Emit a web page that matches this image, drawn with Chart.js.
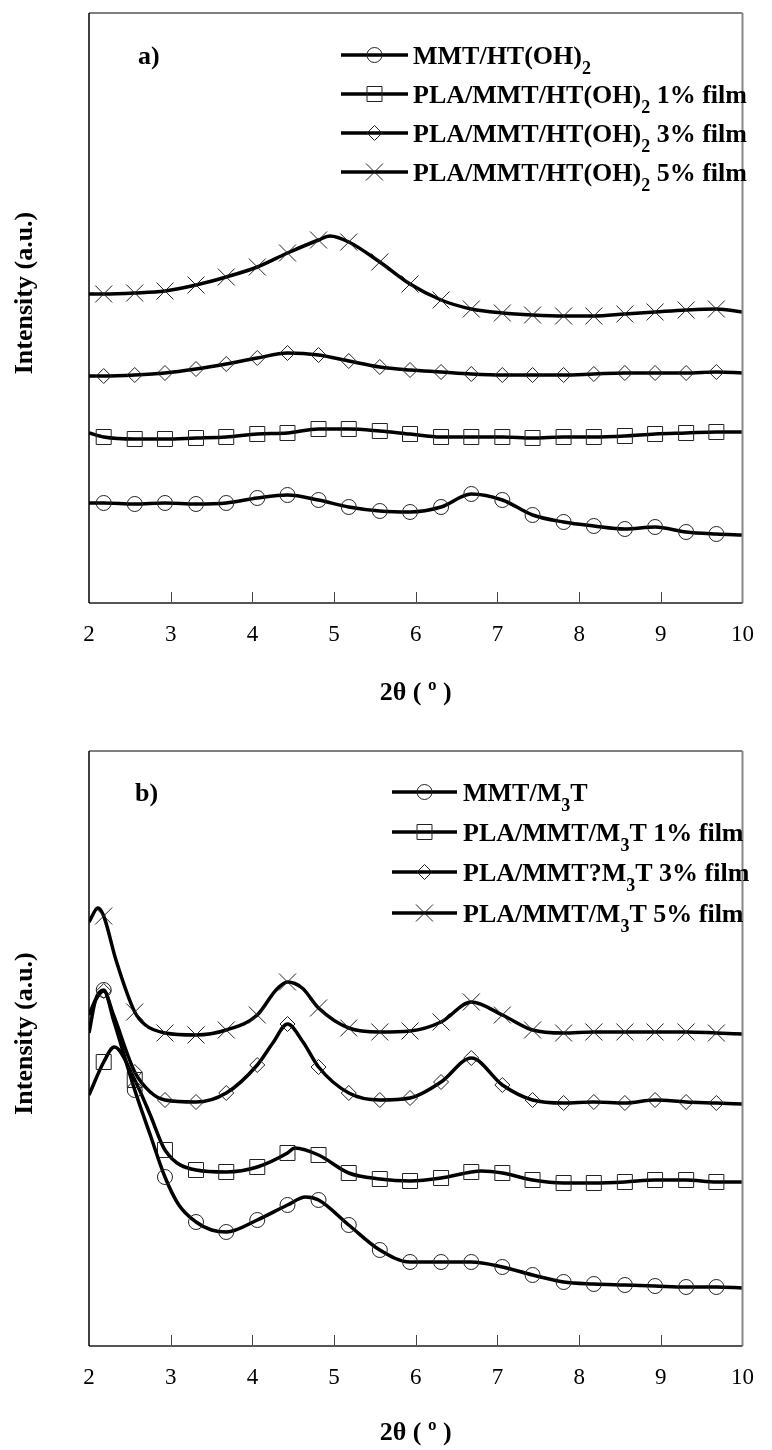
<!DOCTYPE html>
<html><head><meta charset="utf-8">
<script src="https://cdn.jsdelivr.net/npm/chart.js@4/dist/chart.umd.min.js"></script>
<style>
html,body{margin:0;padding:0;background:#fff;}
#wrapA{position:absolute;left:0;top:0;width:772px;height:735px;}
#wrapB{position:absolute;left:0;top:735px;width:772px;height:715px;}
</style></head><body>
<div id="wrapA"><canvas id="chartA"></canvas></div>
<div id="wrapB"><canvas id="chartB"></canvas></div>
<script>
// ---------- data ----------
const xTicks = [2, 3, 4, 5, 6, 7, 8, 9, 10];
const markerX = [2.18, 2.56, 2.93, 3.31, 3.68, 4.06, 4.43, 4.81, 5.18, 5.56, 5.93, 6.31, 6.68, 7.06, 7.43, 7.81, 8.18, 8.56, 8.93, 9.31, 9.68];
const xTitle = '2θ ( º )';
const yTitle = 'Intensity (a.u.)';

// panel a)
const labelsA = ['MMT/HT(OH)₂', 'PLA/MMT/HT(OH)₂ 1% film', 'PLA/MMT/HT(OH)₂ 3% film', 'PLA/MMT/HT(OH)₂ 5% film'];
const xA_mmt = [2.0, 2.18, 2.56, 2.93, 3.31, 3.68, 4.06, 4.43, 4.81, 5.18, 5.56, 5.93, 6.31, 6.68, 7.06, 7.43, 7.81, 8.18, 8.56, 8.93, 9.31, 9.68, 10.0];
const yA_mmt = [100, 100, 99, 100, 99, 100, 105, 108, 103, 96, 92, 91, 96, 109, 103, 88, 81, 77, 74, 76, 71, 69, 68];
const xA_1 = [2.0, 2.18, 2.56, 2.93, 3.31, 3.68, 4.06, 4.43, 4.81, 5.18, 5.56, 5.93, 6.31, 6.68, 7.06, 7.43, 7.81, 8.18, 8.56, 8.93, 9.31, 9.68, 10.0];
const yA_1 = [170, 166, 164, 164, 165, 166, 169, 170, 174, 174, 172, 169, 166, 166, 166, 165, 166, 166, 167, 169, 170, 171, 171];
const xA_3 = [2.0, 2.18, 2.56, 2.93, 3.31, 3.68, 4.06, 4.43, 4.81, 5.18, 5.56, 5.93, 6.31, 6.68, 7.06, 7.43, 7.81, 8.18, 8.56, 8.93, 9.31, 9.68, 10.0];
const yA_3 = [227, 227, 228, 230, 234, 239, 245, 250, 248, 242, 236, 233, 231, 229, 228, 228, 228, 229, 230, 230, 230, 231, 230];
const xA_5 = [2.0, 2.18, 2.56, 2.93, 3.31, 3.68, 4.06, 4.43, 4.81, 4.95, 5.18, 5.56, 5.93, 6.31, 6.68, 7.06, 7.43, 7.81, 8.18, 8.56, 8.93, 9.31, 9.68, 10.0];
const yA_5 = [309, 309, 310, 312, 318, 326, 336, 350, 363, 367, 361, 341, 319, 303, 294, 290, 288, 287, 287, 289, 291, 293, 294, 291];

// panel b)
const labelsB = ['MMT/M₃T', 'PLA/MMT/M₃T 1% film', 'PLA/MMT?M₃T 3% film', 'PLA/MMT/M₃T 5% film'];
const xB_mmt = [2.0, 2.08, 2.18, 2.3, 2.56, 2.75, 2.93, 3.1, 3.31, 3.5, 3.68, 4.06, 4.43, 4.65, 4.81, 5.18, 5.56, 5.93, 6.31, 6.68, 7.06, 7.43, 7.81, 8.18, 8.56, 8.93, 9.31, 9.68, 10.0];
const yB_mmt = [313, 346, 356, 326, 256, 211, 169, 141, 124, 116, 114, 126, 141, 149, 146, 121, 96, 84, 84, 84, 79, 71, 64, 62, 61, 60, 59, 59, 58];
const xB_1 = [2.0, 2.18, 2.31, 2.56, 2.75, 2.93, 3.31, 3.68, 4.06, 4.43, 4.52, 4.81, 5.18, 5.56, 5.93, 6.31, 6.68, 6.8, 7.06, 7.43, 7.81, 8.18, 8.56, 8.93, 9.31, 9.68, 10.0];
const yB_1 = [251, 284, 299, 266, 231, 196, 176, 174, 179, 193, 198, 191, 173, 167, 165, 168, 174, 175, 173, 166, 163, 163, 164, 166, 166, 164, 164];
const xB_3 = [2.0, 2.08, 2.18, 2.3, 2.56, 2.75, 2.93, 3.31, 3.68, 4.06, 4.25, 4.43, 4.62, 4.81, 5.18, 5.56, 5.93, 6.31, 6.68, 7.06, 7.43, 7.81, 8.18, 8.56, 8.93, 9.31, 9.68, 10.0];
const yB_3 = [331, 346, 355, 331, 274, 254, 246, 244, 253, 281, 303, 322, 304, 279, 253, 246, 248, 264, 288, 261, 246, 243, 244, 243, 246, 244, 243, 242];
const xB_5 = [2.0, 2.11, 2.18, 2.33, 2.56, 2.69, 2.93, 3.31, 3.68, 4.06, 4.29, 4.43, 4.61, 4.81, 5.18, 5.56, 5.93, 6.31, 6.68, 7.06, 7.43, 7.81, 8.18, 8.56, 8.93, 9.31, 9.68, 10.0];
const yB_5 = [424, 438, 430, 386, 334, 321, 313, 311, 316, 331, 356, 364, 358, 338, 318, 314, 315, 324, 344, 331, 316, 313, 314, 314, 314, 314, 313, 312];

// ---------- styling / helpers ----------
const SERIF = '"Liberation Serif", "Times New Roman", serif';
const markerStyles = ['circle', 'rect', 'rectRot', 'crossRot'];
const markerRadii = [7.5, 10.6, 7.5, 12];
const SUBS = {'₀':'0','₁':'1','₂':'2','₃':'3','₄':'4','₅':'5','₆':'6','₇':'7','₈':'8','₉':'9'};
const LEG_FONT = 26;

function isMarker(x) { return markerX.some(m => Math.abs(m - x) < 0.004); }

function makeDataset(label, xs, ys, i) {
  return {
    label,
    data: xs.map((x, k) => ({x, y: ys[k]})),
    borderColor: '#000',
    borderWidth: 3.5,
    cubicInterpolationMode: 'monotone',
    fill: false,
    pointStyle: markerStyles[i],
    pointRadius: ctx => (ctx.raw && isMarker(ctx.raw.x)) ? markerRadii[i] : 0,
    pointHoverRadius: 0,
    pointBorderColor: '#222',
    pointBorderWidth: 1,
    pointBackgroundColor: 'rgba(0,0,0,0)'
  };
}

function drawRich(ctx, str, x, y, size) {
  const runs = [];
  for (const ch of str) {
    const sub = ch in SUBS;
    const c = sub ? SUBS[ch] : ch;
    if (runs.length && runs[runs.length - 1].sub === sub) runs[runs.length - 1].t += c;
    else runs.push({t: c, sub});
  }
  let cx = x;
  ctx.textBaseline = 'alphabetic';
  ctx.textAlign = 'left';
  ctx.fillStyle = '#000';
  for (const r of runs) {
    const fs = r.sub ? Math.round(size * 0.68) : size;
    ctx.font = 'bold ' + fs + 'px ' + SERIF;
    const yy = y + size * 0.33 + (r.sub ? size * 0.4 : 0);
    ctx.fillText(r.t, cx, yy);
    cx += ctx.measureText(r.t).width;
  }
}

function drawMarker(ctx, style, x, y, r) {
  ctx.beginPath();
  if (style === 'circle') ctx.arc(x, y, r, 0, Math.PI * 2);
  else if (style === 'rect') { const s = r * Math.SQRT1_2; ctx.rect(x - s, y - s, 2 * s, 2 * s); }
  else if (style === 'rectRot') { ctx.moveTo(x - r, y); ctx.lineTo(x, y - r); ctx.lineTo(x + r, y); ctx.lineTo(x, y + r); ctx.closePath(); }
  else if (style === 'crossRot') { const o = r * Math.SQRT1_2; ctx.moveTo(x - o, y - o); ctx.lineTo(x + o, y + o); ctx.moveTo(x + o, y - o); ctx.lineTo(x - o, y + o); }
  ctx.stroke();
}

const decorPlugin = {
  id: 'xrdDecor',
  afterDraw(chart, args, o) {
    const {ctx, chartArea: a} = chart;
    const xs = chart.scales.x;
    ctx.save();
    // inward x ticks
    ctx.strokeStyle = '#444'; ctx.lineWidth = 1;
    xTicks.forEach(v => {
      if (v <= xs.min || v >= xs.max) return;
      const px = Math.round(xs.getPixelForValue(v)) + 0.5;
      ctx.beginPath(); ctx.moveTo(px, a.bottom); ctx.lineTo(px, a.bottom - 11); ctx.stroke();
    });
    // frame
    const seg = (x1, y1, x2, y2, c, w) => { ctx.strokeStyle = c; ctx.lineWidth = w; ctx.beginPath(); ctx.moveTo(x1, y1); ctx.lineTo(x2, y2); ctx.stroke(); };
    seg(a.left, a.top, a.right, a.top, '#555', 1.5);
    seg(a.right, a.top, a.right, a.bottom, '#888', 2);
    seg(a.left, a.bottom, a.right, a.bottom, '#555', 2);
    seg(a.left, a.top, a.left, a.bottom, '#000', 1.5);
    // y axis title
    ctx.save();
    ctx.translate(o.yTitleX, (a.top + a.bottom) / 2 + o.yTitleDy);
    ctx.rotate(-Math.PI / 2);
    ctx.font = 'bold 26px ' + SERIF;
    ctx.fillStyle = '#000';
    ctx.textAlign = 'center';
    ctx.textBaseline = 'middle';
    ctx.fillText(yTitle, 0, 0);
    ctx.restore();
    // panel label
    drawRich(ctx, o.panel, o.panelX, o.rows[0], LEG_FONT);
    // legend
    chart.data.datasets.forEach((ds, i) => {
      const y = o.rows[i];
      ctx.strokeStyle = '#000'; ctx.lineWidth = 3.5;
      ctx.beginPath(); ctx.moveTo(o.x0, y); ctx.lineTo(o.x1, y); ctx.stroke();
      ctx.strokeStyle = '#222'; ctx.lineWidth = 1;
      drawMarker(ctx, markerStyles[i], (o.x0 + o.x1) / 2, y, markerRadii[i]);
      drawRich(ctx, ds.label, o.textX, y, LEG_FONT);
    });
    ctx.restore();
  }
};

function makeChart(id, labels, xsList, ysList, cfg) {
  const datasets = labels.map((l, i) => makeDataset(l, xsList[i], ysList[i], i));
  return new Chart(document.getElementById(id), {
    type: 'line',
    data: {datasets},
    plugins: [decorPlugin],
    options: {
      responsive: true,
      maintainAspectRatio: false,
      devicePixelRatio: 1,
      animation: false,
      events: [],
      layout: {padding: {top: cfg.padTop, right: 17, left: 0, bottom: 0}},
      plugins: {
        legend: {display: false},
        tooltip: {enabled: false},
        xrdDecor: cfg.decor
      },
      scales: {
        x: {
          type: 'linear', min: 2, max: 10,
          afterBuildTicks: s => { s.ticks = xTicks.map(v => ({value: v})); },
          afterFit: s => { s.height = cfg.xHeight; },
          ticks: {color: '#000', font: {family: SERIF, size: 23}, padding: 18, maxRotation: 0, autoSkip: false},
          grid: {display: false, drawTicks: false},
          border: {display: false},
          title: {display: true, text: xTitle, color: '#000', font: {family: SERIF, size: 26, weight: 'bold'}, padding: {top: 0, bottom: cfg.titlePadB}}
        },
        y: {
          type: 'linear', min: 0, max: cfg.yMax,
          afterFit: s => { s.width = 89; },
          ticks: {display: false},
          grid: {display: false, drawTicks: false},
          border: {display: false},
          title: {display: false, text: yTitle}
        }
      }
    }
  });
}

makeChart('chartA', labelsA, [xA_mmt, xA_1, xA_3, xA_5], [yA_mmt, yA_1, yA_3, yA_5], {
  padTop: 13, xHeight: 132, titlePadB: 26, yMax: 590,
  decor: {panel: 'a)', panelX: 138, x0: 341, x1: 408, textX: 413, rows: [55, 94, 133, 172], yTitleX: 25, yTitleDy: -15}
});
makeChart('chartB', labelsB, [xB_mmt, xB_1, xB_3, xB_5], [yB_mmt, yB_1, yB_3, yB_5], {
  padTop: 16, xHeight: 104, titlePadB: 1, yMax: 595,
  decor: {panel: 'b)', panelX: 135, x0: 392, x1: 457, textX: 463, rows: [57, 97, 137, 178], yTitleX: 25, yTitleDy: -15}
});
</script>
</body></html>
